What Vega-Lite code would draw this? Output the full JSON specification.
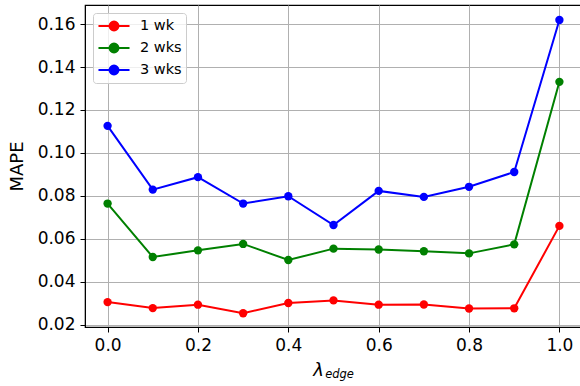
{
  "$schema": "https://vega.github.io/schema/vega-lite/v6.json",
  "autosize": {"type": "none"},
  "width": 497,
  "height": 322,
  "padding": {"left": 85, "top": 5, "right": 0, "bottom": 59},
  "background": "white",
  "config": {
    "font": "DejaVu Sans",
    "view": {"stroke": "black", "strokeWidth": 1.2},
    "axis": {
      "domainColor": "black",
      "tickColor": "black",
      "tickSize": 5,
      "labelFontSize": 17,
      "labelColor": "black",
      "titleColor": "black",
      "titleFontWeight": "normal",
      "gridColor": "#b0b0b0",
      "gridWidth": 1,
      "labelFont": "DejaVu Sans",
      "titleFont": "DejaVu Sans"
    }
  },
  "title": {
    "text": "edge",
    "orient": "bottom",
    "anchor": "middle",
    "fontSize": 11.5,
    "fontStyle": "italic",
    "fontWeight": "normal",
    "font": "DejaVu Sans",
    "color": "black",
    "dx": 6,
    "offset": -10
  },
  "data": {
    "values": [
      {"x": 0.0, "v": 0.0305, "s": "1 wk"},
      {"x": 0.1, "v": 0.0277, "s": "1 wk"},
      {"x": 0.2, "v": 0.0293, "s": "1 wk"},
      {"x": 0.3, "v": 0.0253, "s": "1 wk"},
      {"x": 0.4, "v": 0.0301, "s": "1 wk"},
      {"x": 0.5, "v": 0.0313, "s": "1 wk"},
      {"x": 0.6, "v": 0.0293, "s": "1 wk"},
      {"x": 0.7, "v": 0.0294, "s": "1 wk"},
      {"x": 0.8, "v": 0.0275, "s": "1 wk"},
      {"x": 0.9, "v": 0.0276, "s": "1 wk"},
      {"x": 1.0, "v": 0.0660, "s": "1 wk"},
      {"x": 0.0, "v": 0.0764, "s": "2 wks"},
      {"x": 0.1, "v": 0.0515, "s": "2 wks"},
      {"x": 0.2, "v": 0.0546, "s": "2 wks"},
      {"x": 0.3, "v": 0.0576, "s": "2 wks"},
      {"x": 0.4, "v": 0.0501, "s": "2 wks"},
      {"x": 0.5, "v": 0.0554, "s": "2 wks"},
      {"x": 0.6, "v": 0.0550, "s": "2 wks"},
      {"x": 0.7, "v": 0.0542, "s": "2 wks"},
      {"x": 0.8, "v": 0.0532, "s": "2 wks"},
      {"x": 0.9, "v": 0.0574, "s": "2 wks"},
      {"x": 1.0, "v": 0.1331, "s": "2 wks"},
      {"x": 0.0, "v": 0.1126, "s": "3 wks"},
      {"x": 0.1, "v": 0.0829, "s": "3 wks"},
      {"x": 0.2, "v": 0.0887, "s": "3 wks"},
      {"x": 0.3, "v": 0.0764, "s": "3 wks"},
      {"x": 0.4, "v": 0.0798, "s": "3 wks"},
      {"x": 0.5, "v": 0.0664, "s": "3 wks"},
      {"x": 0.6, "v": 0.0823, "s": "3 wks"},
      {"x": 0.7, "v": 0.0795, "s": "3 wks"},
      {"x": 0.8, "v": 0.0842, "s": "3 wks"},
      {"x": 0.9, "v": 0.0911, "s": "3 wks"},
      {"x": 1.0, "v": 0.1619, "s": "3 wks"}
    ]
  },
  "encoding": {
    "x": {
      "field": "x",
      "type": "quantitative",
      "scale": {"domain": [-0.05, 1.05], "nice": false, "zero": false},
      "axis": {
        "values": [0, 0.2, 0.4, 0.6, 0.8, 1.0],
        "format": ".1f",
        "title": "λ",
        "titleFontSize": 18,
        "titleFontStyle": "italic",
        "titleBaseline": "alphabetic",
        "titleX": 233,
        "titleY": 48,
        "labelPadding": 5
      }
    },
    "y": {
      "field": "v",
      "type": "quantitative",
      "scale": {"domain": [0.0189, 0.1689], "nice": false, "zero": false},
      "axis": {
        "values": [0.02, 0.04, 0.06, 0.08, 0.10, 0.12, 0.14, 0.16],
        "format": ".2f",
        "title": "MAPE",
        "titleFontSize": 18,
        "titlePadding": 11,
        "labelPadding": 5
      }
    },
    "color": {
      "field": "s",
      "type": "nominal",
      "scale": {"domain": ["1 wk", "2 wks", "3 wks"], "range": ["#ff0000", "#008000", "#0000ff"]},
      "legend": {
        "title": null,
        "orient": "top-left",
        "offset": 8,
        "labelFontSize": 14.5,
        "labelColor": "black",
        "symbolType": "M-1.94,0L1.94,0M-0.56,0A0.56,0.56 0 1,1 0.56,0A0.56,0.56 0 1,1 -0.56,0",
        "symbolSize": 256,
        "symbolStrokeWidth": 2,
        "symbolOffset": 8,
        "rowPadding": 4,
        "labelOffset": 17,
        "padding": 4,
        "strokeColor": "#cccccc",
        "fillColor": "rgba(255,255,255,0.8)",
        "cornerRadius": 3
      }
    }
  },
  "layer": [
    {"mark": {"type": "line", "strokeWidth": 2}},
    {"mark": {"type": "point", "filled": true, "opacity": 1, "size": 70}}
  ]
}
